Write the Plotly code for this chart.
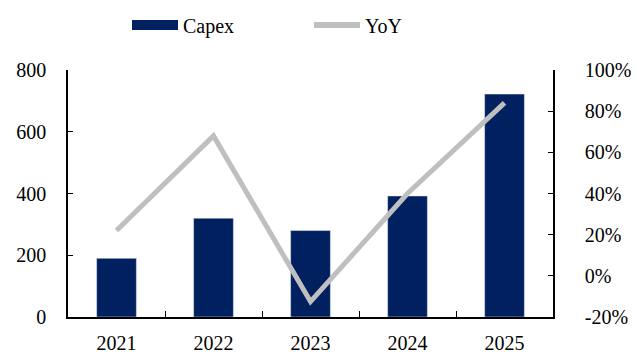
import plotly.graph_objects as go

years = ["2021", "2022", "2023", "2024", "2025"]
capex = [190, 320, 280, 392, 722]
yoy = [22, 68, -12.5, 40, 84]

left_ticks = [0, 200, 400, 600, 800]
right_ticks = [-20, 0, 20, 40, 60, 80, 100]
right_labels = [f"{v}%" for v in right_ticks]

NAVY = "#002060"
GRAY = "#BFBFBF"
FONT = "Liberation Serif, Times New Roman, serif"

fig = go.Figure()
fig.add_trace(go.Bar(x=years, y=capex, marker_color=NAVY, name="Capex",
                     showlegend=False))
fig.add_trace(go.Scatter(x=years, y=yoy, yaxis="y2", mode="lines",
                         line=dict(color=GRAY, width=5), name="YoY",
                         showlegend=False))
# legend proxies
fig.add_trace(go.Scatter(x=[None], y=[None], mode="lines",
                         line=dict(color=NAVY, width=13), name="Capex"))
fig.add_trace(go.Scatter(x=[None], y=[None], mode="lines",
                         line=dict(color=GRAY, width=6), name="YoY"))

fig.update_layout(
    width=637, height=354,
    margin=dict(l=68, r=84, t=70, b=37, autoexpand=False),
    paper_bgcolor="white", plot_bgcolor="white",
    font=dict(family=FONT, size=20, color="black"),
    bargap=0.59,
    legend=dict(orientation="h", xref="container", yref="container",
                x=(139 - 12) / 637, xanchor="left",
                y=1 - 25 / 354, yanchor="middle",
                font=dict(size=20), entrywidth=121, itemwidth=46,
                bgcolor="rgba(0,0,0,0)"),
    xaxis=dict(type="category", showline=True, linecolor="black", linewidth=1.5,
               ticks="inside", ticklen=6, tickson="boundaries",
               tickcolor="black", showgrid=False, automargin=False,
               ticklabelstandoff=7),
    yaxis=dict(range=[0, 800], tickvals=left_ticks, showline=True,
               linecolor="black", linewidth=1.5, ticks="inside", ticklen=5,
               tickcolor="black", showgrid=False, zeroline=False,
               ticklabelstandoff=16, automargin=False),
    yaxis2=dict(range=[-20, 100], tickvals=right_ticks, ticktext=right_labels,
                overlaying="y", side="right", showline=True, linecolor="black",
                linewidth=1.5, ticks="inside", ticklen=5, tickcolor="black",
                showgrid=False, zeroline=False, ticklabelstandoff=26,
                automargin=False),
)

fig.write_html("out.html")
